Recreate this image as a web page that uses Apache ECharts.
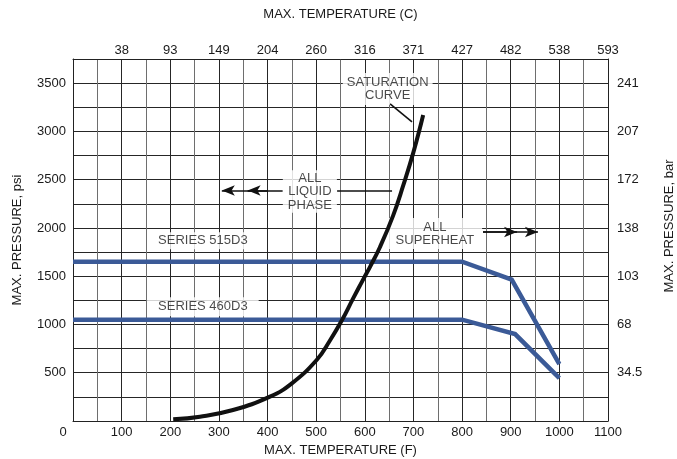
<!DOCTYPE html>
<html>
<head>
<meta charset="utf-8">
<script src="https://cdn.jsdelivr.net/npm/echarts@6/dist/echarts.min.js"></script>
<style>html,body{margin:0;padding:0;background:#fff;}#c{width:677px;height:459px;}</style>
</head>
<body>
<div id="c"></div>
<script>
// Top axis labels (deg C) at 0,100,...,1100 F
const cLabels = ['', '38', '93', '149', '204', '260', '316', '371', '427', '482', '538', '593'];
// Right axis labels (bar) at 500,1000,...,3500 psi
const barLabels = ['34.5', '68', '103', '138', '172', '207', '241'];

// Series data [F, psi]
const series515 = [[0, 1650], [800, 1650], [902, 1465], [1000, 590]];
const series460 = [[0, 1050], [800, 1050], [909, 900], [1000, 445]];
const saturation = [[206, 17], [261, 45], [329, 114], [405, 252], [450, 390], [501, 632], [528, 831],
  [552, 1035], [576, 1270], [597, 1470], [611, 1600], [631, 1800], [658, 2125], [679, 2440], [700, 2785], [720, 3170]];

// Annotation texts and anchor points [F, psi]
const annoTexts = ['SATURATION\nCURVE', 'ALL\nLIQUID\nPHASE', 'ALL\nSUPERHEAT', 'SERIES 515D3', 'SERIES 460D3'];
const annoPoints = [[647, 3440], [487, 2378], [744, 1942], [267, 1868], [267, 1184]];
// Pointer / arrow segments [[F,psi],[F,psi]]
const pointerSeg = [[652, 3284], [697, 3098]];
const liquidLineRight = [[543, 2388], [656, 2388]];
const liquidArrow1 = [[431, 2388], [306, 2388]];
const liquidArrow2 = [[400, 2388], [359, 2388]];
const heatArrow1 = [[843, 1958], [956, 1958]];
const heatArrow2 = [[843, 1958], [913, 1958]];

const FONT = "'Liberation Sans', Arial, Helvetica, sans-serif";
const TXT = '#1a1a1a';
const BLUE = '#3b5a97';

const chart = echarts.init(document.getElementById('c'), null, {renderer: 'canvas'});

const annoPads = [[3, 4, 3, 4], [1, 5, 1, 5], [2, 8, 3, 8], [2, 4, 2, 4], [3, 11, 3, 11]];
const annoLH = [13, 13.5, 13, 13, 13];

const seg = (s, arrow) => [
  {coord: s[0], symbol: 'none'},
  {coord: s[1], symbol: arrow ? 'arrow' : 'none'}
];

const option = {
  animation: false,
  backgroundColor: '#fff',
  textStyle: {fontFamily: FONT},
  grid: {left: 73, right: 69, top: 59, bottom: 38, containLabel: false, outerBoundsMode: 'none'},
  xAxis: [
    {
      type: 'value', position: 'bottom', min: 0, max: 1100, interval: 100,
      name: 'MAX. TEMPERATURE (F)', nameLocation: 'middle', nameGap: 23,
      nameTextStyle: {fontFamily: FONT, fontSize: 13, color: TXT},
      axisLine: {show: true, onZero: false, lineStyle: {color: '#222', width: 1}},
      axisTick: {show: false},
      axisLabel: {
        fontFamily: FONT, fontSize: 13, color: TXT, margin: 5,
        formatter: v => v === 0 ? '{z|0}' : String(v),
        rich: {z: {fontFamily: FONT, fontSize: 13, color: TXT, padding: [0, 20, 0, 0]}}
      },
      splitLine: {show: true, lineStyle: {color: '#262626', width: 1}},
      minorTick: {show: false, splitNumber: 2},
      minorSplitLine: {show: true, lineStyle: {color: '#6e6e6e', width: 1}}
    },
    {
      type: 'value', position: 'top', min: 0, max: 1100, interval: 100,
      name: 'MAX. TEMPERATURE (C)', nameLocation: 'middle', nameGap: 38,
      nameTextStyle: {fontFamily: FONT, fontSize: 13, color: TXT},
      axisLine: {show: true, onZero: false, lineStyle: {color: '#222', width: 1}},
      axisTick: {show: false},
      axisLabel: {
        fontFamily: FONT, fontSize: 13, color: TXT, margin: 2,
        formatter: v => cLabels[Math.round(v / 100)] || ''
      },
      splitLine: {show: false}
    }
  ],
  yAxis: [
    {
      type: 'value', position: 'left', min: 0, max: 3750, interval: 250,
      name: 'MAX. PRESSURE, psi', nameLocation: 'middle', nameGap: 49,
      nameTextStyle: {fontFamily: FONT, fontSize: 13, color: TXT},
      axisLine: {show: true, onZero: false, lineStyle: {color: '#222', width: 1}},
      axisTick: {show: false},
      axisLabel: {
        fontFamily: FONT, fontSize: 13, color: TXT, margin: 7,
        formatter: v => (v > 0 && v % 500 === 0 && v <= 3500) ? String(v) : ''
      },
      splitLine: {show: true, lineStyle: {color: '#262626', width: 1}}
    },
    {
      type: 'value', position: 'right', min: 0, max: 3750, interval: 250,
      name: 'MAX. PRESSURE, bar', nameLocation: 'middle', nameGap: 55,
      nameTextStyle: {fontFamily: FONT, fontSize: 13, color: TXT, padding: [0, 0, 0, 28]},
      axisLine: {show: true, onZero: false, lineStyle: {color: '#222', width: 1}},
      axisTick: {show: false},
      axisLabel: {
        fontFamily: FONT, fontSize: 13, color: TXT, margin: 9,
        formatter: v => (v > 0 && v % 500 === 0 && v <= 3500) ? barLabels[v / 500 - 1] : ''
      },
      splitLine: {show: false}
    }
  ],
  series: [
    {
      name: 'annotations', type: 'scatter', z: 3, silent: true,
      symbolSize: 1, itemStyle: {color: 'rgba(0,0,0,0)'},
      data: annoPoints.map((p, i) => ({
        value: p,
        label: {
          show: true, position: 'inside', formatter: annoTexts[i],
          fontFamily: FONT, fontSize: 13, color: TXT, align: 'center', verticalAlign: 'middle',
          lineHeight: annoLH[i], backgroundColor: '#fff', padding: annoPads[i]
        }
      })),
      markLine: {
        silent: true, animation: false,
        symbolSize: [8, 13],
        label: {show: false},
        lineStyle: {color: '#111', width: 1.6, type: 'solid'},
        emphasis: {disabled: true},
        data: [
          seg(pointerSeg, false),
          seg(liquidLineRight, false),
          seg(liquidArrow1, true),
          seg(liquidArrow2, true),
          seg(heatArrow1, true),
          seg(heatArrow2, true)
        ]
      }
    },
    {
      name: 'SERIES 515D3', type: 'line', z: 4, data: series515, symbol: 'none', silent: true,
      lineStyle: {color: BLUE, width: 4.5, cap: 'butt', join: 'miter'}
    },
    {
      name: 'SERIES 460D3', type: 'line', z: 4, data: series460, symbol: 'none', silent: true,
      lineStyle: {color: BLUE, width: 4.5, cap: 'butt', join: 'miter'}
    },
    {
      name: 'SATURATION CURVE', type: 'line', z: 5, data: saturation, symbol: 'none', silent: true,
      smooth: 0.45,
      lineStyle: {color: '#111', width: 4, cap: 'butt'}
    }
  ]
};
chart.setOption(option);
</script>
</body>
</html>
